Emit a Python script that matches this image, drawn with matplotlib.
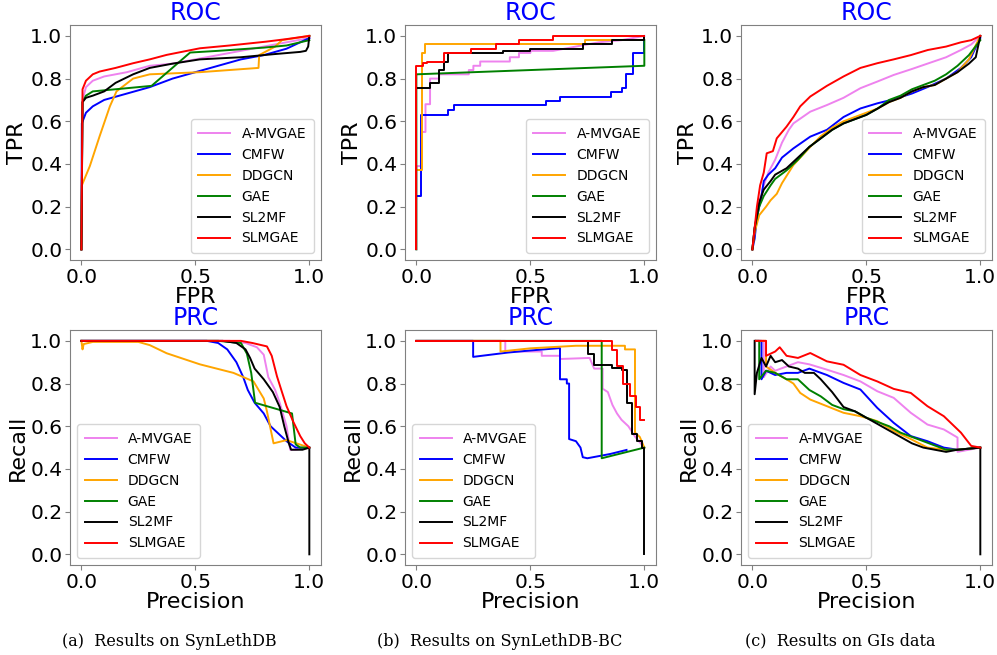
import numpy as np
import matplotlib.pyplot as plt

methods = ['A-MVGAE', 'CMFW', 'DDGCN', 'GAE', 'SL2MF', 'SLMGAE']
colors = ['violet', 'blue', 'orange', 'green', 'black', 'red']
captions = ['(a)  Results on SynLethDB', '(b)  Results on SynLethDB-BC', '(c)  Results on GIs data']

# ---- SynLethDB ROC (fpr, tpr)
roc_a = {
    'A-MVGAE': ([0, 0.005, 0.02, 0.05, 0.1, 0.2, 0.3, 0.4, 0.5, 0.6, 0.7, 0.8, 0.9, 1.0],
                [0, 0.70, 0.76, 0.79, 0.81, 0.83, 0.86, 0.87, 0.89, 0.91, 0.93, 0.95, 0.97, 0.99]),
    'CMFW': ([0, 0.002, 0.02, 0.05, 0.1, 0.2, 0.3, 0.4, 0.5, 0.6, 0.7, 0.8, 0.9, 1.0],
             [0, 0.59, 0.64, 0.67, 0.70, 0.73, 0.76, 0.80, 0.83, 0.86, 0.89, 0.91, 0.94, 0.99]),
    'DDGCN': ([0, 0.002, 0.037, 0.08, 0.125, 0.154, 0.227, 0.3, 0.52, 0.777, 0.78, 0.85, 0.88, 1.0],
              [0, 0.30, 0.39, 0.53, 0.67, 0.74, 0.80, 0.82, 0.83, 0.85, 0.91, 0.95, 0.98, 1.0]),
    'GAE': ([0, 0.005, 0.02, 0.05, 0.1, 0.2, 0.308, 0.477, 0.6, 0.8, 0.9, 1.0],
            [0, 0.69, 0.72, 0.74, 0.745, 0.755, 0.766, 0.922, 0.93, 0.945, 0.955, 0.98]),
    'SL2MF': ([0, 0.005, 0.02, 0.05, 0.1, 0.15, 0.227, 0.3, 0.4, 0.52, 0.7, 0.85, 0.96, 0.985, 0.995, 1.0],
              [0, 0.69, 0.71, 0.72, 0.74, 0.78, 0.82, 0.85, 0.87, 0.89, 0.90, 0.915, 0.925, 0.93, 0.95, 1.0]),
    'SLMGAE': ([0, 0.005, 0.02, 0.05, 0.08, 0.15, 0.227, 0.3, 0.374, 0.52, 0.65, 0.81, 0.9, 1.0],
               [0, 0.75, 0.79, 0.82, 0.833, 0.85, 0.872, 0.89, 0.911, 0.942, 0.955, 0.973, 0.985, 1.0]),
}

# ---- SynLethDB PRC (precision, recall)
prc_a = {
    'A-MVGAE': ([0, 0.65, 0.72, 0.77, 0.8, 0.82, 0.85, 0.87, 0.9, 0.916, 0.94, 1.0],
                [1.0, 1.0, 0.99, 0.97, 0.935, 0.83, 0.77, 0.71, 0.6, 0.49, 0.49, 0.5]),
    'CMFW': ([0, 0.55, 0.6, 0.64, 0.68, 0.71, 0.73, 0.76, 0.8, 0.83, 0.87, 0.9, 0.94, 1.0],
             [1.0, 1.0, 0.99, 0.96, 0.9, 0.83, 0.77, 0.71, 0.66, 0.6, 0.56, 0.53, 0.5, 0.5]),
    'DDGCN': ([0, 0.005, 0.01, 0.05, 0.25, 0.3, 0.374, 0.52, 0.667, 0.755, 0.8, 0.814, 0.843, 0.9, 1.0],
              [1.0, 0.96, 0.985, 0.995, 0.995, 0.98, 0.942, 0.89, 0.85, 0.81, 0.73, 0.67, 0.52, 0.535, 0.5]),
    'GAE': ([0, 0.6, 0.7, 0.726, 0.745, 0.762, 0.924, 0.94, 0.96, 1.0],
            [1.0, 1.0, 0.99, 0.94, 0.85, 0.71, 0.66, 0.515, 0.5, 0.5]),
    'SL2MF': ([0, 0.62, 0.68, 0.72, 0.74, 0.76, 0.8, 0.84, 0.87, 0.89, 0.91, 0.92, 0.97, 1.0, 1.0],
              [1.0, 1.0, 0.99, 0.96, 0.92, 0.87, 0.82, 0.76, 0.69, 0.60, 0.52, 0.49, 0.49, 0.5, 0.0]),
    'SLMGAE': ([0, 0.7, 0.75, 0.814, 0.835, 0.858, 0.88, 0.9, 0.93, 0.96, 0.98, 1.0],
               [1.0, 1.0, 0.99, 0.974, 0.93, 0.834, 0.76, 0.694, 0.62, 0.554, 0.52, 0.5]),
}

# ---- SynLethDB-BC ROC (step curves)
roc_b = {
    'A-MVGAE': ([0, 0, 0.02, 0.02, 0.04, 0.04, 0.06, 0.06, 0.1, 0.1, 0.23, 0.23, 0.25, 0.25, 0.28, 0.28,
                 0.41, 0.41, 0.45, 0.45, 0.5, 0.5, 0.6, 0.7, 0.8, 0.9, 1.0],
                [0, 0.39, 0.39, 0.55, 0.55, 0.68, 0.68, 0.80, 0.80, 0.82, 0.82, 0.84, 0.84, 0.86, 0.86, 0.88,
                 0.88, 0.90, 0.90, 0.92, 0.92, 0.93, 0.93, 0.95, 0.97, 0.98, 1.0]),
    'CMFW': ([0, 0, 0.022, 0.022, 0.14, 0.14, 0.163, 0.163, 0.57, 0.57, 0.63, 0.63, 0.854, 0.854, 0.9, 0.9,
              0.92, 0.92, 0.952, 0.952, 1.0, 1.0],
             [0, 0.25, 0.25, 0.63, 0.63, 0.655, 0.655, 0.675, 0.675, 0.695, 0.695, 0.715, 0.715, 0.735, 0.735, 0.755,
              0.755, 0.82, 0.82, 0.92, 0.92, 1.0]),
    'DDGCN': ([0, 0, 0.025, 0.025, 0.04, 0.04, 0.74, 0.74, 1.0, 1.0],
              [0, 0.37, 0.37, 0.92, 0.92, 0.96, 0.96, 0.98, 0.98, 1.0]),
    'GAE': ([0, 0, 1.0, 1.0],
            [0, 0.82, 0.86, 0.98]),
    'SL2MF': ([0, 0, 0.06, 0.06, 0.1, 0.1, 0.12, 0.12, 0.14, 0.14, 0.38, 0.38, 0.5, 0.5, 0.73, 0.73,
               0.86, 0.86, 1.0, 1.0],
              [0, 0.755, 0.755, 0.78, 0.78, 0.84, 0.84, 0.88, 0.88, 0.92, 0.92, 0.93, 0.93, 0.94, 0.94, 0.96,
               0.96, 0.98, 0.98, 1.0]),
    'SLMGAE': ([0, 0, 0.03, 0.03, 0.045, 0.045, 0.12, 0.12, 0.24, 0.24, 0.35, 0.35, 0.45, 0.45, 0.6, 0.6, 1.0],
               [0, 0.86, 0.86, 0.875, 0.875, 0.88, 0.88, 0.92, 0.92, 0.94, 0.94, 0.96, 0.96, 0.98, 0.98, 1.0, 1.0]),
}

# ---- SynLethDB-BC PRC
prc_b = {
    'A-MVGAE': ([0, 0.39, 0.39, 0.55, 0.55, 0.63, 0.63, 0.76, 0.78, 0.817, 0.817, 0.84, 0.86, 0.88, 0.9,
                 0.93, 0.96, 1.0],
                [1.0, 1.0, 0.95, 0.95, 0.93, 0.93, 0.915, 0.92, 0.87, 0.87, 0.776, 0.76, 0.70, 0.66, 0.63,
                 0.60, 0.55, 0.5]),
    'CMFW': ([0, 0.249, 0.249, 0.4, 0.5, 0.63, 0.63, 0.66, 0.66, 0.67, 0.67, 0.7, 0.72, 0.73, 0.75, 0.85, 0.922],
             [1.0, 1.0, 0.925, 0.945, 0.955, 0.966, 0.82, 0.82, 0.80, 0.80, 0.54, 0.53, 0.50, 0.455, 0.45, 0.47, 0.489]),
    'DDGCN': ([0, 0.369, 0.369, 0.5, 0.7, 0.915, 0.915, 0.959, 0.959, 0.98, 1.0],
              [1.0, 1.0, 0.95, 0.965, 0.977, 0.977, 0.96, 0.96, 0.57, 0.55, 0.5]),
    'GAE': ([0, 0.813, 0.813, 1.0],
            [1.0, 1.0, 0.45, 0.5]),
    'SL2MF': ([0, 0.751, 0.751, 0.78, 0.78, 0.86, 0.86, 0.9, 0.9, 0.922, 0.922, 0.944, 0.944, 0.966, 0.966,
               0.988, 0.988, 1.0, 1.0],
              [1.0, 1.0, 0.94, 0.94, 0.888, 0.888, 0.875, 0.875, 0.865, 0.865, 0.71, 0.71, 0.566, 0.566, 0.53,
               0.53, 0.5, 0.5, 0.0]),
    'SLMGAE': ([0, 0.859, 0.859, 0.88, 0.88, 0.908, 0.908, 0.937, 0.937, 0.963, 0.963, 0.98, 0.98, 1.0],
               [1.0, 1.0, 0.955, 0.955, 0.88, 0.88, 0.80, 0.80, 0.74, 0.74, 0.69, 0.69, 0.63, 0.63]),
}

# ---- GIs data ROC
roc_c = {
    'A-MVGAE': ([0, 0.01, 0.03, 0.05, 0.07, 0.1, 0.13, 0.16, 0.18, 0.254, 0.327, 0.4, 0.474, 0.548, 0.62,
                 0.7, 0.768, 0.85, 0.915, 0.96, 1.0],
                [0, 0.1, 0.22, 0.3, 0.36, 0.42, 0.5, 0.56, 0.59, 0.645, 0.676, 0.71, 0.755, 0.786, 0.817,
                 0.845, 0.87, 0.90, 0.934, 0.96, 1.0]),
    'CMFW': ([0, 0.01, 0.02, 0.04, 0.05, 0.07, 0.1, 0.13, 0.18, 0.254, 0.327, 0.4, 0.474, 0.548, 0.62,
              0.7, 0.768, 0.85, 0.915, 0.96, 0.99, 1.0],
             [0, 0.05, 0.15, 0.25, 0.32, 0.35, 0.38, 0.43, 0.473, 0.528, 0.56, 0.62, 0.66, 0.684, 0.703,
              0.73, 0.76, 0.80, 0.85, 0.90, 0.97, 0.99]),
    'DDGCN': ([0, 0.01, 0.03, 0.06, 0.08, 0.107, 0.13, 0.18, 0.254, 0.3, 0.35, 0.4, 0.45, 0.5, 0.55, 0.6,
               0.65, 0.7, 0.75, 0.8, 0.85, 0.9, 0.95, 1.0],
              [0, 0.08, 0.16, 0.2, 0.23, 0.26, 0.31, 0.395, 0.48, 0.53, 0.57, 0.6, 0.62, 0.64, 0.66, 0.69,
               0.71, 0.74, 0.76, 0.77, 0.80, 0.83, 0.89, 1.0]),
    'GAE': ([0, 0.01, 0.03, 0.05, 0.08, 0.1, 0.15, 0.2, 0.25, 0.3, 0.35, 0.4, 0.45, 0.5, 0.55, 0.6,
             0.65, 0.7, 0.75, 0.8, 0.85, 0.9, 0.95, 1.0],
            [0, 0.1, 0.2, 0.25, 0.3, 0.33, 0.37, 0.42, 0.48, 0.52, 0.56, 0.59, 0.61, 0.63, 0.66, 0.70,
             0.72, 0.75, 0.77, 0.79, 0.82, 0.86, 0.91, 0.98]),
    'SL2MF': ([0, 0.01, 0.03, 0.05, 0.08, 0.1, 0.15, 0.2, 0.25, 0.3, 0.35, 0.4, 0.45, 0.5, 0.55, 0.6,
               0.65, 0.7, 0.75, 0.8, 0.85, 0.9, 0.95, 0.98, 1.0],
              [0, 0.1, 0.22, 0.28, 0.32, 0.35, 0.38, 0.43, 0.48, 0.52, 0.56, 0.59, 0.61, 0.63, 0.66, 0.69,
               0.71, 0.74, 0.76, 0.77, 0.80, 0.83, 0.87, 0.90, 1.0]),
    'SLMGAE': ([0, 0.01, 0.02, 0.034, 0.05, 0.063, 0.09, 0.107, 0.15, 0.18, 0.21, 0.254, 0.327, 0.4,
                0.474, 0.548, 0.62, 0.695, 0.77, 0.85, 0.915, 0.96, 1.0],
               [0, 0.1, 0.2, 0.30, 0.36, 0.45, 0.46, 0.52, 0.575, 0.62, 0.67, 0.716, 0.766, 0.81,
                0.85, 0.872, 0.89, 0.91, 0.934, 0.95, 0.97, 0.98, 1.0]),
}

# ---- GIs data PRC
prc_c = {
    'A-MVGAE': ([0.015, 0.05, 0.05, 0.08, 0.1, 0.15, 0.2, 0.25, 0.327, 0.4, 0.474, 0.548, 0.62, 0.695,
                 0.768, 0.84, 0.9, 0.9, 0.95, 1.0],
                [1.0, 1.0, 0.83, 0.88, 0.86, 0.88, 0.90, 0.89, 0.865, 0.84, 0.81, 0.764, 0.733, 0.663,
                 0.608, 0.585, 0.547, 0.48, 0.49, 0.5]),
    'CMFW': ([0.015, 0.04, 0.04, 0.06, 0.1, 0.15, 0.2, 0.25, 0.327, 0.4, 0.474, 0.548, 0.62, 0.695,
              0.768, 0.84, 0.9, 1.0],
             [1.0, 1.0, 0.82, 0.86, 0.84, 0.85, 0.85, 0.87, 0.84, 0.803, 0.772, 0.686, 0.616, 0.554,
              0.53, 0.5, 0.49, 0.5]),
    'DDGCN': ([0.015, 0.06, 0.06, 0.1, 0.15, 0.18, 0.21, 0.254, 0.327, 0.4, 0.474, 0.548, 0.62, 0.695,
               0.768, 0.85, 0.9, 1.0],
              [1.0, 1.0, 0.88, 0.85, 0.82, 0.80, 0.756, 0.725, 0.694, 0.663, 0.647, 0.624, 0.578, 0.54,
               0.5, 0.49, 0.49, 0.5]),
    'GAE': ([0.015, 0.03, 0.03, 0.06, 0.1, 0.15, 0.2, 0.25, 0.3, 0.35, 0.4, 0.45, 0.5, 0.55, 0.6, 0.65,
             0.7, 0.75, 0.8, 0.85, 0.9, 1.0],
            [1.0, 1.0, 0.82, 0.86, 0.85, 0.82, 0.82, 0.77, 0.74, 0.70, 0.68, 0.67, 0.64, 0.62, 0.60, 0.57,
             0.55, 0.53, 0.51, 0.49, 0.49, 0.5]),
    'SL2MF': ([0.01, 0.01, 0.02, 0.04, 0.06, 0.08, 0.1, 0.13, 0.16, 0.2, 0.23, 0.27, 0.3, 0.35, 0.4,
               0.45, 0.5, 0.55, 0.6, 0.65, 0.7, 0.75, 0.8, 0.85, 0.9, 1.0, 1.0],
              [1.0, 0.75, 0.85, 0.92, 0.88, 0.93, 0.90, 0.91, 0.88, 0.87, 0.85, 0.85, 0.82, 0.76, 0.69,
               0.67, 0.64, 0.61, 0.58, 0.55, 0.52, 0.50, 0.49, 0.48, 0.49, 0.5, 0.0]),
    'SLMGAE': ([0.015, 0.06, 0.06, 0.1, 0.12, 0.15, 0.2, 0.254, 0.327, 0.4, 0.474, 0.548, 0.62, 0.695,
                0.768, 0.84, 0.915, 0.96, 1.0],
               [1.0, 1.0, 0.93, 0.95, 0.97, 0.93, 0.92, 0.943, 0.904, 0.888, 0.84, 0.81, 0.775, 0.756,
                0.694, 0.647, 0.57, 0.508, 0.5]),
}

roc_sets = [roc_a, roc_b, roc_c]
prc_sets = [prc_a, prc_b, prc_c]

fig = plt.figure(figsize=(9.97, 6.55), dpi=100)
lefts = [0.0702, 0.4062, 0.7432]
w, h = 0.2515, 0.3585
tops_y = [0.6030, 0.1374]
cap_x = [0.170, 0.501, 0.843]


def style(ax, title, xlabel, ylabel, loc):
    ax.set_xlim(-0.05, 1.05)
    ax.set_ylim(-0.05, 1.05)
    ax.set_xticks([0, 0.5, 1.0])
    ax.set_yticks([0, 0.2, 0.4, 0.6, 0.8, 1.0])
    ax.set_title(title, color='blue', fontsize=17, pad=3)
    ax.set_xlabel(xlabel, fontsize=16, labelpad=0)
    ax.set_ylabel(ylabel, fontsize=16, labelpad=2)
    ax.tick_params(labelsize=14.5, color='gray', length=3.5, pad=2)
    for s in ax.spines.values():
        s.set_color('gray')
    ax.legend(loc=loc, fontsize=10, handlelength=2.3, labelspacing=0.5, borderpad=0.55)


for i in range(3):
    ax = fig.add_axes([lefts[i], tops_y[0], w, h])
    for m, c in zip(methods, colors):
        x, y = roc_sets[i][m]
        ax.plot(x, y, color=c, lw=1.4, label=m)
    style(ax, 'ROC', 'FPR', 'TPR', 'lower right')

    ax = fig.add_axes([lefts[i], tops_y[1], w, h])
    for m, c in zip(methods, colors):
        x, y = prc_sets[i][m]
        ax.plot(x, y, color=c, lw=1.4, label=m)
    style(ax, 'PRC', 'Precision', 'Recall', 'lower left')

    fig.text(cap_x[i], 0.008, captions[i], ha='center', va='bottom', fontsize=11.5,
             family='DejaVu Serif')

fig.savefig('out.png', dpi=100)
